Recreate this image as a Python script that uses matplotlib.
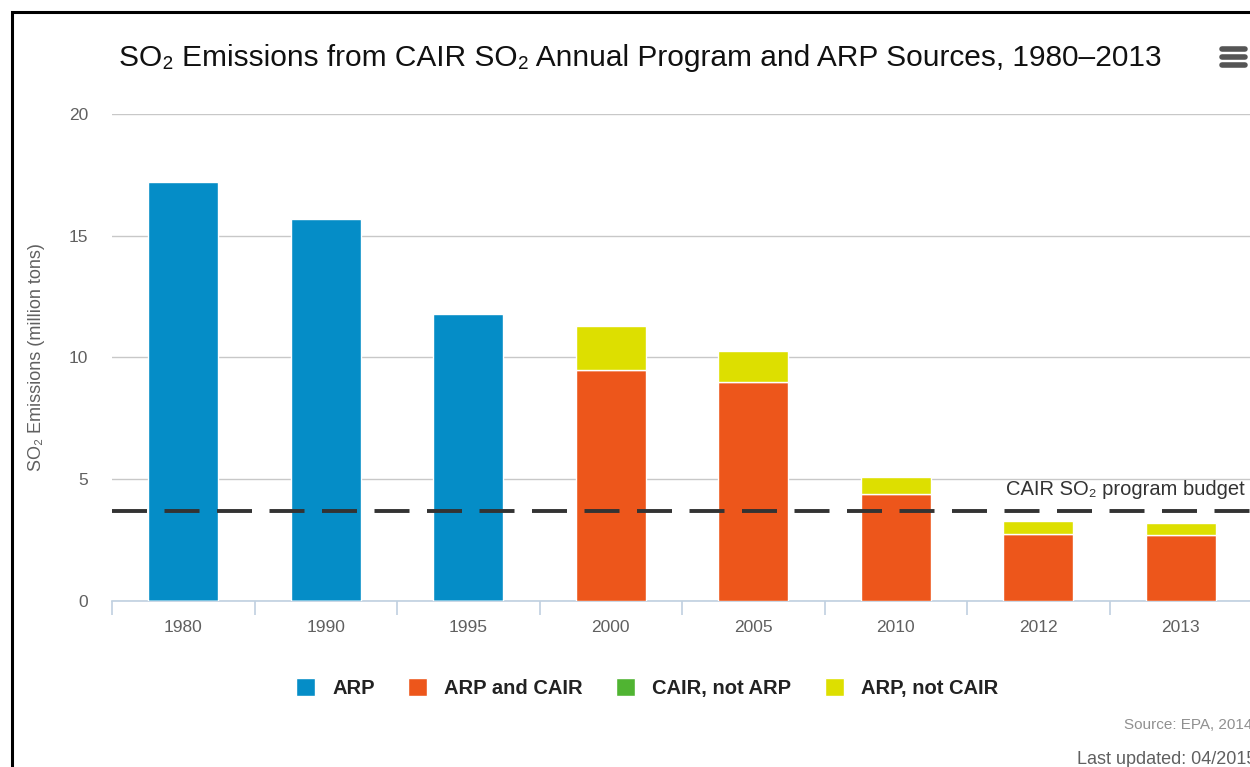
import matplotlib
matplotlib.use("Agg")
import matplotlib.pyplot as plt
import numpy as np
from matplotlib.patches import Rectangle
from matplotlib.lines import Line2D

plt.rcParams['font.family'] = ['Liberation Sans', 'DejaVu Sans']

years = ["1980", "1990", "1995", "2000", "2005", "2010", "2012", "2013"]
arp = [17.2, 15.7, 11.8, 0, 0, 0, 0, 0]
arp_and_cair = [0, 0, 0, 9.5, 9.0, 4.4, 2.75, 2.7]
cair_not_arp = [0, 0, 0, 0, 0, 0, 0, 0]
arp_not_cair = [0, 0, 0, 1.8, 1.25, 0.7, 0.55, 0.5]
budget = 3.7
series_names = ["ARP", "ARP and CAIR", "CAIR, not ARP", "ARP, not CAIR"]
colors = ["#058DC7", "#ED561B", "#50B432", "#DDDF00"]

W, H = 1250, 767
fig = plt.figure(figsize=(W / 100, H / 100), dpi=100)
ax = fig.add_axes([112 / W, 1 - 601 / H, 1140 / W, 487 / H])

x = np.arange(len(years))
bw = 0.49
b_arp = np.array(arp)
b_ac = np.array(arp_and_cair)
b_cn = np.array(cair_not_arp)
b_an = np.array(arp_not_cair)
ax.bar(x, b_arp, bw, color=colors[0], edgecolor="white", linewidth=1, zorder=3)
ax.bar(x, b_ac, bw, color=colors[1], edgecolor="white", linewidth=1, zorder=3)
ax.bar(x, b_cn, bw, bottom=b_ac, color=colors[2], edgecolor="none", linewidth=0, zorder=3)
ax.bar(x, b_an, bw, bottom=b_ac + b_cn, color=colors[3], edgecolor="white", linewidth=1, zorder=3)

ax.set_xlim(-0.5, len(years) - 0.5)
ax.set_ylim(0, 20)
ax.set_yticks([0, 5, 10, 15, 20])
ax.yaxis.grid(True, color="#C8C8C8", linewidth=1)
ax.set_axisbelow(True)
for s in ["top", "right", "left"]:
    ax.spines[s].set_visible(False)
ax.spines["bottom"].set_color("#C0D0E0")
ax.spines["bottom"].set_linewidth(1.2)
ax.tick_params(axis="y", length=0, pad=17, labelsize=12.5, labelcolor="#606060")
ax.set_xticks(x)
ax.set_xticklabels(years)
ax.tick_params(axis="x", length=0, pad=14, labelsize=12.5, labelcolor="#606060")
ax.set_xticks(np.arange(len(years) + 1) - 0.5, minor=True)
ax.tick_params(axis="x", which="minor", length=10, color="#C0D0E0", width=1.2)

# budget line
ax.axhline(budget, color="#333333", linewidth=2.8, linestyle=(0, (9, 4.5)), zorder=4)
ax.text(7.45, budget + 0.5, "CAIR SO\u2082 program budget", ha="right", va="bottom",
        fontsize=14.5, color="#333333", zorder=5)

ax.set_ylabel("SO\u2082 Emissions (million tons)", fontsize=13, color="#606060")
ax.yaxis.set_label_coords((45 - 112) / 1140, 0.5)

fig.text(640 / W, 1 - 58 / H, "SO\u2082 Emissions from CAIR SO\u2082 Annual Program and ARP Sources, 1980\u20132013",
         ha="center", va="center", fontsize=21.5, color="#111111")

# hamburger icon
for dy in (-8, 0, 8):
    fig.add_artist(Line2D([1222 / W, 1245 / W], [1 - (57 + dy) / H] * 2, color="#555555",
                          linewidth=4, solid_capstyle="round"))

# legend
handles = [Rectangle((0, 0), 1, 1, facecolor=c, edgecolor="white") for c in colors]
leg = fig.legend(handles, series_names, loc="center", bbox_to_anchor=(647 / W, 1 - 688 / H), ncol=4,
                 frameon=False, handlelength=0.95, handleheight=0.95, columnspacing=1.65, handletextpad=0.85,
                 prop={"size": 14.5, "weight": "bold"})
for t in leg.get_texts():
    t.set_color("#222222")

fig.text(1252 / W, 1 - 725 / H, "Source: EPA, 2014", ha="right", va="center", fontsize=11, color="#909090")
fig.text(1256 / W, 1 - 759 / H, "Last updated: 04/2015", ha="right", va="center", fontsize=13, color="#606060")

# border frame
fig.add_artist(Rectangle((12 / W, -0.1), 1.2, 1 - 12 / H + 0.1, transform=fig.transFigure,
                         fill=False, edgecolor="black", linewidth=2.2))

fig.savefig("out.png", dpi=100, facecolor="white")
